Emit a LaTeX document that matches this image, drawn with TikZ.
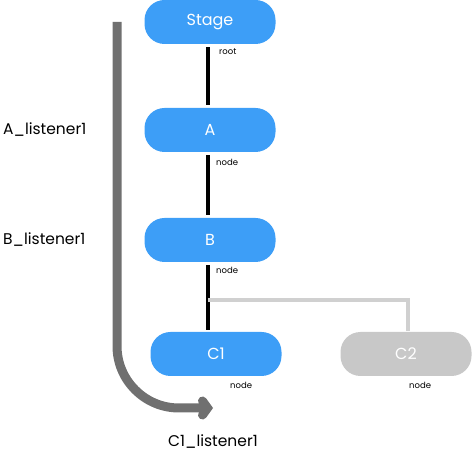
\documentclass[tikz,border=0pt]{standalone}
\usepackage{fontspec}
\setmainfont{Poppins}
\usetikzlibrary{arrows.meta}
\definecolor{boxblue}{HTML}{3D9EF7}
\definecolor{boxgray}{HTML}{C8C8C8}
\definecolor{flowgray}{HTML}{707070}
\definecolor{branchgray}{HTML}{D0D0D0}
\tikzstyle{box} = [rounded corners=20pt, minimum width=131pt, minimum height=44pt, fill=boxblue, text=white, font=\fontsize{16}{18}\selectfont]
\tikzstyle{tag} = [anchor=west, inner sep=0pt, font=\fontsize{8.5}{10}\selectfont]
\tikzstyle{listener} = [anchor=west, inner sep=0pt, font=\fontsize{15.5}{17}\selectfont]
\tikzstyle{link} = [line width=3.5pt, shorten <=3pt, shorten >=3pt]
\tikzstyle{branch} = [line width=3.5pt, draw=branchgray]

\begin{document}
\begin{tikzpicture}[x=1pt, y=-1pt]
\useasboundingbox (0,0) rectangle (472,454);
% tree
\node[box] (stage) at (210,22) {Stage};
\node[box] (a) at (210,130) {A};
\node[box] (b) at (210,240) {B};
\node[box] (c1) at (216,354) {C1};
\node[box, fill=boxgray] (c2) at (406,354) {C2};
\coordinate (split) at (208,300);
\draw[link] (stage.south -| split) -- (a.north -| split);
\draw[link] (a.south -| split) -- (b.north -| split);
\draw[link, shorten >=2pt] (b.south -| split) -- (c1.north -| split);
\draw[branch] (split) -| ([xshift=2pt, yshift=1pt]c2.north);
\node[tag] (root) at (219,52) {root};
\node[tag] (tagA) at (216,162) {node};
\node[tag] (tagB) at (216,270) {node};
\node[tag] (tagC1) at (230,385) {node};
\node[tag] (tagC2) at (409,385) {node};
% listeners
\node[listener] (la) at (3,130) {A\_listener1};
\node[listener] (lb) at (3,240) {B\_listener1};
\node[listener, anchor=center] (lc) at (213,442) {C1\_listener1};
\coordinate (flowtop) at (117,22);
\coordinate (flowend) at (213,408);
\draw[flowgray, line width=9pt, rounded corners=62pt, line cap=butt,
  -{Straight Barb[length=5pt, width=14pt, line cap=round]}]
  (flowtop) |- (flowend);
\end{tikzpicture}
\end{document}
